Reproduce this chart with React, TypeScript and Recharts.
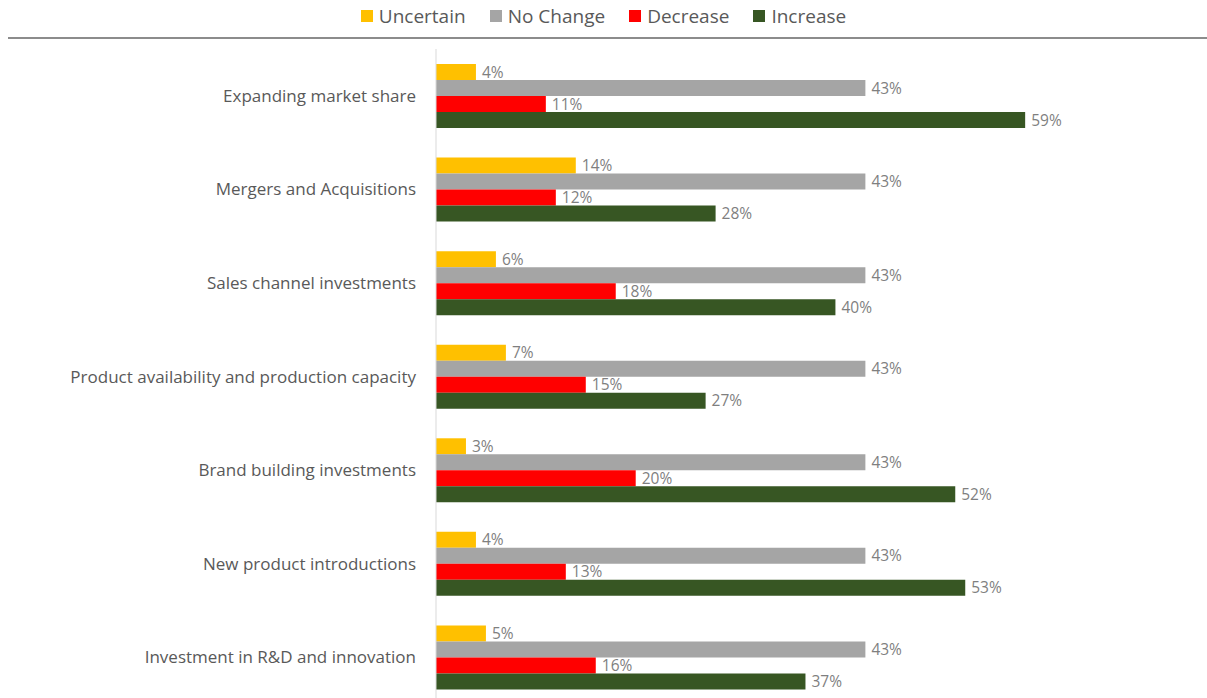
import React from 'react';
import { BarChart, Bar, XAxis, YAxis, LabelList } from 'recharts';

const categories = [
  'Expanding market share',
  'Mergers and Acquisitions',
  'Sales channel investments',
  'Product availability and production capacity',
  'Brand building investments',
  'New product introductions',
  'Investment in R&D and innovation',
];
const uncertain = [4, 14, 6, 7, 3, 4, 5];
const noChange = [43, 43, 43, 43, 43, 43, 43];
const decrease = [11, 12, 18, 15, 20, 13, 16];
const increase = [59, 28, 40, 27, 52, 53, 37];

const series = [
  { key: 'uncertain', name: 'Uncertain', color: '#FFC000' },
  { key: 'noChange', name: 'No Change', color: '#A5A5A5' },
  { key: 'decrease', name: 'Decrease', color: '#FF0000' },
  { key: 'increase', name: 'Increase', color: '#375623' },
];

const data = categories.map((c, i) => ({
  category: c,
  uncertain: uncertain[i],
  noChange: noChange[i],
  decrease: decrease[i],
  increase: increase[i],
}));

const font = '"Open Sans", sans-serif';

const App = () => {
  return (
    <div style={{ position: 'absolute', left: 0, top: 0, width: 1207, height: 698, overflow: 'hidden', background: '#fff', fontFamily: font }}>
      <div style={{ position: 'absolute', top: 3, left: 0, width: 1207, display: 'flex', justifyContent: 'center', gap: 24, fontSize: 19, color: '#595959' }}>
        {series.map((s) => (
          <div key={s.key} style={{ display: 'flex', alignItems: 'center' }}>
            <span style={{ display: 'inline-block', width: 12, height: 12, background: s.color, marginRight: 6 }} />
            <span>{s.name}</span>
          </div>
        ))}
      </div>
      <div style={{ position: 'absolute', top: 37, left: 8, width: 1199, height: 2, background: '#8c8c8c' }} />
      <div style={{ position: 'absolute', top: 0, left: 0 }}>
        <BarChart
          width={1207}
          height={720}
          data={data}
          layout="vertical"
          margin={{ top: 49, right: 72, bottom: 16, left: 0 }}
          barGap={0}
          barSize={16}
        >
          <XAxis type="number" domain={[0, 70]} hide />
          <YAxis
            type="category"
            dataKey="category"
            width={436}
            tickLine={false}
            tickSize={0}
            tickMargin={20}
            axisLine={{ stroke: '#d9d9d9' }}
            tick={{ fill: '#595959', fontSize: 17, fontFamily: font }}
          />
          {series.map((s) => (
            <Bar key={s.key} dataKey={s.key} name={s.name} fill={s.color} isAnimationActive={false}>
              <LabelList
                dataKey={s.key}
                position="right"
                offset={6}
                formatter={(v: number) => `${v}%`}
                style={{ fill: '#7f7f7f', fontSize: 15.5, fontFamily: font }}
              />
            </Bar>
          ))}
        </BarChart>
      </div>
    </div>
  );
};

export default App;
